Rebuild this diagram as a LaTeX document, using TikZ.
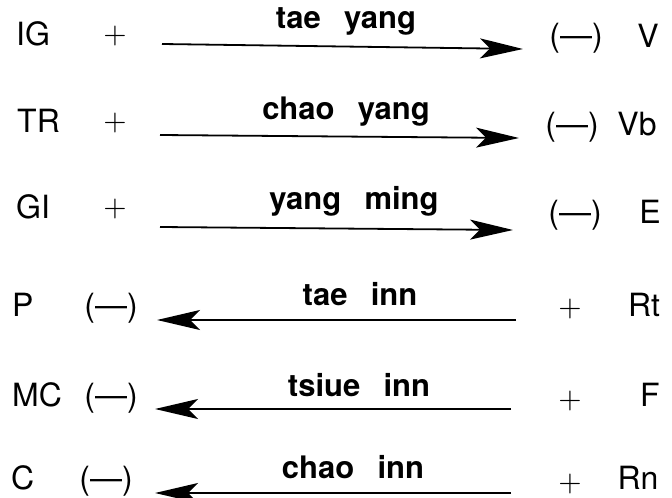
\documentclass[tikz,border=0pt]{standalone}
\usepackage{fontspec}
\setmainfont{TeX Gyre Heros}
\newfontfamily\plusfont{lmroman10-regular.otf}
\usetikzlibrary{arrows.meta}
\begin{document}
\begin{tikzpicture}[x=1bp,y=-1bp,
    organ/.style={inner sep=0pt,anchor=base west,font=\fontsize{32bp}{38bp}\selectfont},
    sign/.style={inner sep=0pt,anchor=base,font=\fontsize{32bp}{38bp}\selectfont},
    plus/.style={inner sep=0pt,anchor=base,font=\fontsize{30bp}{36bp}\plusfont},
    channel/.style={inner sep=0pt,anchor=base,font=\fontsize{31bp}{36bp}\selectfont\bfseries},
    flow/.style={line width=1.8bp,-{Stealth[length=43bp,width=20bp,inset=10bp]}}]
    \fill [white] (0,0) rectangle (672,498);
    \useasboundingbox (0,0) rectangle (672,498);
    \node [organ] (ig) at (16,46) {IG};
    \node [plus] (igplus) at (115,44) {+};
    \node [channel] (taeyang) at (346,29) {tae\hspace{.75em}yang};
    \node [sign] (vminus) at (576,47) {(---)};
    \node [sign] (v) at (648,48) {V};
    \coordinate (ig0) at (162,44);
    \coordinate (ig1) at (523,49);
    \draw [flow] (ig0) -- (ig1);
    \node [organ] (tr) at (17,133) {TR};
    \node [plus] (trplus) at (115,131) {+};
    \node [channel] (chaoyang) at (346,120) {chao\hspace{.75em}yang};
    \node [sign] (vbminus) at (572,136) {(---)};
    \node [sign] (vb) at (637,136) {Vb};
    \coordinate (tr0) at (160,135);
    \coordinate (tr1) at (519,138);
    \draw [flow] (tr0) -- (tr1);
    \node [organ] (gi) at (16,219) {GI};
    \node [plus] (giplus) at (115,217) {+};
    \node [channel] (yangming) at (354,210) {yang\hspace{.75em}ming};
    \node [sign] (eminus) at (575,224) {(---)};
    \node [sign] (e) at (650,224) {E};
    \coordinate (gi0) at (160,227);
    \coordinate (gi1) at (513,230);
    \draw [flow] (gi0) -- (gi1);
    \node [organ] (p) at (12,316) {P};
    \node [sign] (pminus) at (111,316) {(---)};
    \node [channel] (taeinn) at (360,305) {tae\hspace{.75em}inn};
    \node [plus] (rtplus) at (570,316) {+};
    \node [sign] (rt) at (644,316) {Rt};
    \coordinate (rt0) at (516,320);
    \coordinate (rt1) at (157,320);
    \draw [flow] (rt0) -- (rt1);
    \node [organ] (mc) at (12,406) {MC};
    \node [sign] (mcminus) at (111,406) {(---)};
    \node [channel] (tsiueinn) at (359,396) {tsiue\hspace{.75em}inn};
    \node [plus] (fplus) at (570,408) {+};
    \node [sign] (f) at (650,406) {F};
    \coordinate (f0) at (511,409);
    \coordinate (f1) at (155,409);
    \draw [flow] (f0) -- (f1);
    \node [organ] (c) at (11,489) {C};
    \node [sign] (cminus) at (106,489) {(---)};
    \node [channel] (chaoinn) at (353,478) {chao\hspace{.75em}inn};
    \node [plus] (rnplus) at (570,491) {+};
    \node [sign] (rn) at (638,489) {Rn};
    \coordinate (rn0) at (511,493);
    \coordinate (rn1) at (155,493);
    \draw [flow] (rn0) -- (rn1);
\end{tikzpicture}
\end{document}
